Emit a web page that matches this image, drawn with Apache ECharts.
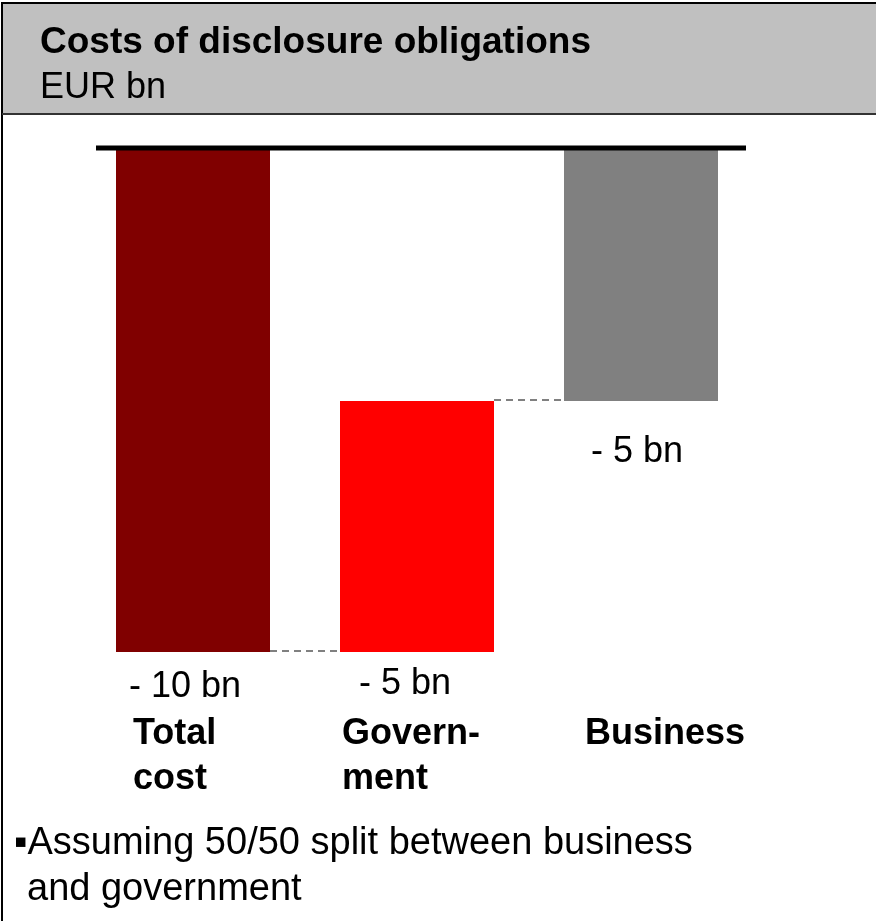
<!DOCTYPE html>
<html>
<head>
<meta charset="utf-8">
<title>Costs of disclosure obligations</title>
<script src="https://cdn.jsdelivr.net/npm/echarts@6/dist/echarts.min.js"></script>
<style>
  html, body { margin: 0; padding: 0; background: #ffffff; }
  #chart { width: 876px; height: 921px; }
</style>
</head>
<body>
<div id="chart"></div>
<script>
// Waterfall: total cost split into its two parts (EUR bn)
const categories = ['Total\ncost', 'Govern-\nment', 'Business'];
const values = [-10, -5, -5];
const valueLabels = ['- 10 bn', '- 5 bn', '- 5 bn'];
const titleText = 'Costs of disclosure obligations';
const unitText = 'EUR bn';
const footnoteLines = ['\u25AAAssuming 50/50 split between business', 'and government'];

const FONT = '"Liberation Sans", Arial, Helvetica, sans-serif';
const barColors = ['#800000', '#ff0000', '#808080'];
// per-bar label placement (distance below bar, horizontal nudge)
const labelPlacement = [
  { distance: 17, offset: [-8, 0] },
  { distance: 14, offset: [-12, 0] },
  { distance: 33, offset: [-4, 0] }
];
// per-category axis label nudge so each name starts near its bar's left edge
const categoryNudge = [-60, -75, -56];

// invisible offsets that lift each part to its place in the waterfall
const total = values[0];
const offsets = values.map((v, i) => {
  if (i === 0) return 0;
  let used = 0;
  for (let k = 1; k <= i; k++) used += values[k];
  return total - used;
});

const chart = echarts.init(document.getElementById('chart'), null, { renderer: 'canvas' });

chart.setOption({
  backgroundColor: '#ffffff',
  animation: false,
  grid: { left: 81, right: 123, top: 150, bottom: 269 },
  xAxis: {
    type: 'category',
    position: 'bottom',
    data: categories.map((c, i) => ({
      value: c,
      textStyle: { align: 'left', padding: [0, 0, 0, categoryNudge[i]] }
    })),
    axisLine: { show: false },
    axisTick: { show: false },
    splitLine: { show: false },
    axisLabel: {
      interval: 0,
      margin: 60,
      align: 'left',
      fontFamily: FONT,
      fontSize: 36,
      fontWeight: 'bold',
      lineHeight: 45,
      color: '#000000'
    }
  },
  yAxis: {
    type: 'value',
    min: -10,
    max: 0,
    show: false,
    splitLine: { show: false }
  },
  series: [
    {
      name: 'offset',
      type: 'bar',
      stack: 'waterfall',
      barWidth: 154,
      silent: true,
      itemStyle: { color: 'rgba(0,0,0,0)' },
      data: offsets
    },
    {
      name: 'cost',
      type: 'bar',
      stack: 'waterfall',
      barWidth: 154,
      z: 3,
      data: values.map((v, i) => ({
        value: v,
        itemStyle: { color: barColors[i] },
        label: {
          show: true,
          position: 'bottom',
          distance: labelPlacement[i].distance,
          offset: labelPlacement[i].offset,
          formatter: () => valueLabels[i],
          fontFamily: FONT,
          fontSize: 36,
          color: '#000000'
        }
      }))
    }
  ]
});

// dashed connectors between neighbouring bars: horizontal extent from the bar
// layout, height from the running waterfall level where one bar hands over
const barData = chart.getModel().getSeriesByIndex(1).getData();
const connectors = [];
for (let i = 0; i < values.length - 1; i++) {
  const a = barData.getItemLayout(i);
  const b = barData.getItemLayout(i + 1);
  const aRight = Math.max(a.x, a.x + a.width);
  const bLeft = Math.min(b.x, b.x + b.width);
  const levelValue = i === 0 ? total : offsets[i];
  const level = chart.convertToPixel({ yAxisIndex: 0 }, levelValue) - 1;
  connectors.push({
    type: 'line', z: 40, silent: true,
    shape: { x1: aRight, y1: level, x2: bLeft, y2: level },
    style: { stroke: '#808080', lineWidth: 2, lineDash: [7, 5] }
  });
}

// frame, header band, title, zero line and footnote
const zeroY = chart.convertToPixel({ yAxisIndex: 0 }, 0);
chart.setOption({
  graphic: [
    {
      type: 'rect', z: -10, silent: true,
      shape: { x: 2, y: 3, width: 900, height: 111 },
      style: { fill: '#c0c0c0' }
    },
    {
      type: 'rect', z: 50, silent: true,
      shape: { x: 2, y: 3, width: 900, height: 1000 },
      style: { fill: null, stroke: '#000000', lineWidth: 2 }
    },
    {
      type: 'line', z: 50, silent: true,
      shape: { x1: 2, y1: 114, x2: 876, y2: 114 },
      style: { stroke: '#333333', lineWidth: 2 }
    },
    {
      type: 'text', z: 50, silent: true,
      x: 40, y: 43,
      style: {
        text: titleText, fill: '#000000',
        font: 'bold 37px ' + FONT, verticalAlign: 'middle'
      }
    },
    {
      type: 'text', z: 50, silent: true,
      x: 40, y: 88,
      style: {
        text: unitText, fill: '#000000',
        font: '36px ' + FONT, verticalAlign: 'middle'
      }
    },
    {
      type: 'line', z: 50, silent: true,
      shape: { x1: 96, y1: zeroY - 2, x2: 746, y2: zeroY - 2 },
      style: { stroke: '#000000', lineWidth: 5 }
    },
    ...connectors,
    {
      type: 'text', z: 50, silent: true,
      x: 14, y: 844,
      style: {
        text: footnoteLines[0], fill: '#000000',
        font: '38px ' + FONT, verticalAlign: 'middle'
      }
    },
    {
      type: 'text', z: 50, silent: true,
      x: 27, y: 890,
      style: {
        text: footnoteLines[1], fill: '#000000',
        font: '38px ' + FONT, verticalAlign: 'middle'
      }
    }
  ]
});
</script>
</body>
</html>
